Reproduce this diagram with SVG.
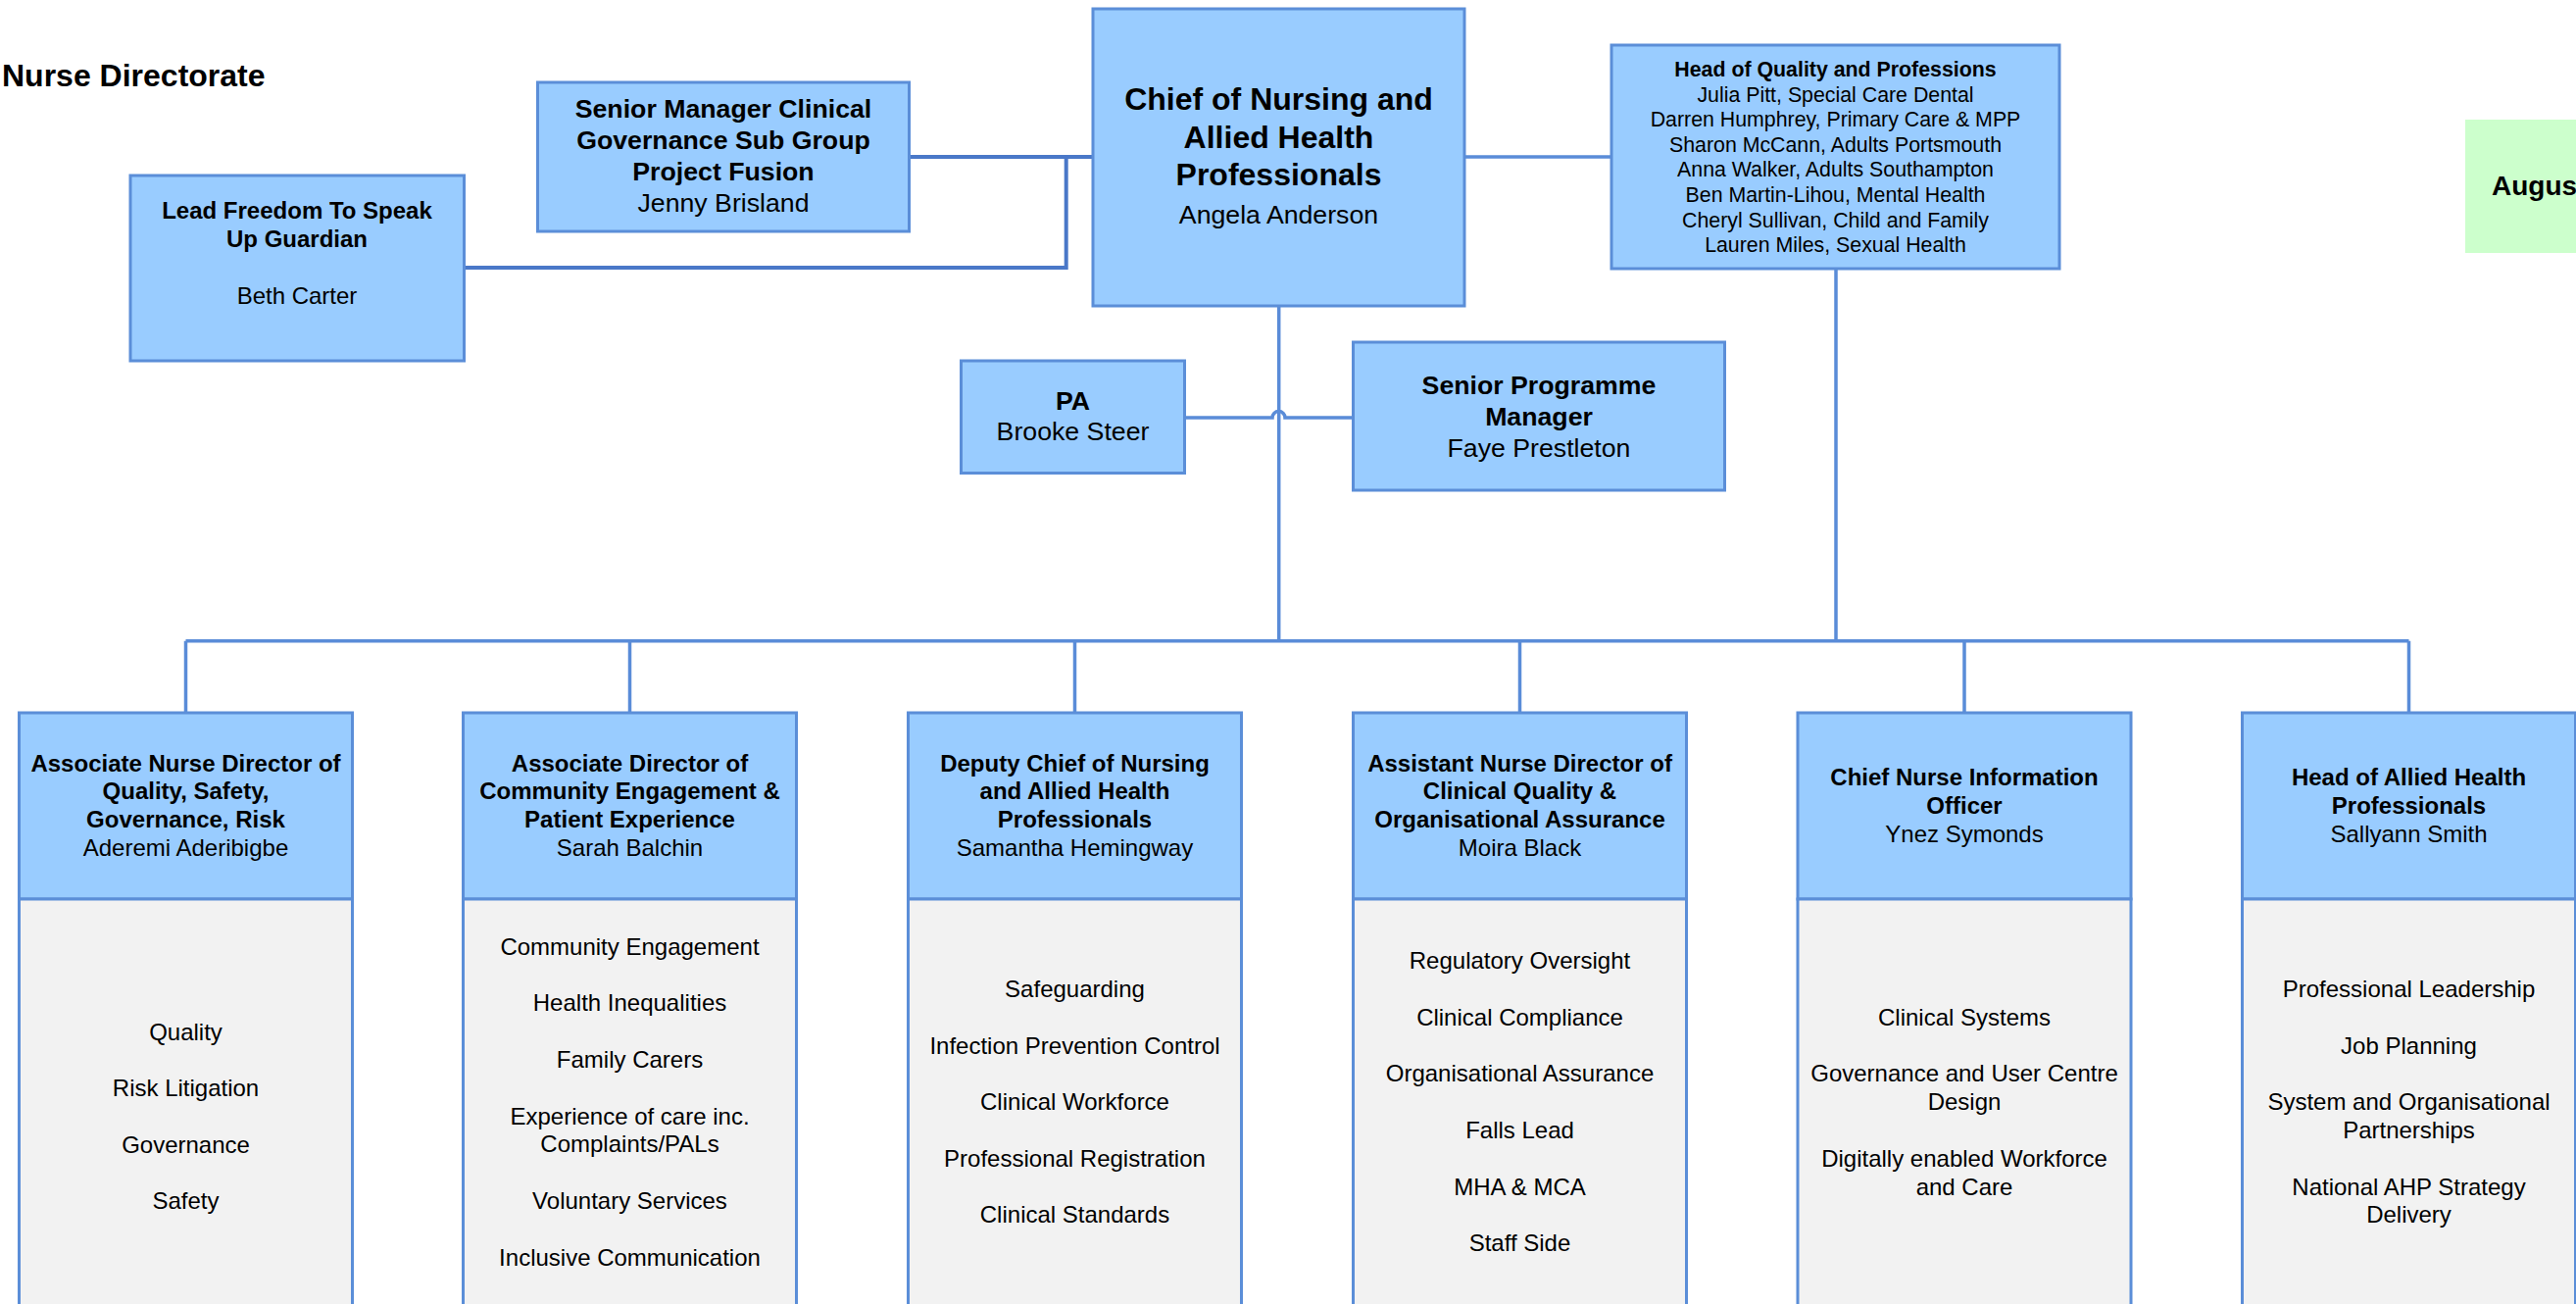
<svg xmlns="http://www.w3.org/2000/svg" width="2628" height="1330" viewBox="0 0 2628 1330">
<style>
text{font-family:"Liberation Sans",Arial,sans-serif;fill:#000;text-anchor:middle}
.b{font-weight:bold}
.box{fill:#99CCFF;stroke:#5B8ED8;stroke-width:3}
.body{fill:#F2F2F2;stroke:#5B8ED8;stroke-width:3}
.ln{fill:none;stroke:#5A8CD8;stroke-width:3.5}
.ln2{fill:none;stroke:#4A78C8;stroke-width:4}
.f32{font-size:32px}
.f27{font-size:26.7px}
.f24{font-size:24px}
.f21{font-size:21.33px}
</style>
<rect width="2628" height="1330" fill="#fff"/>
<text class="b f32" x="2" y="88" style="text-anchor:start">Nurse Directorate</text>

<g id="connectors">
<path class="ln2" d="M927.5,160 H1115 M1087.7,160 V273 H473.5"/>
<path class="ln" d="M1494,160 H1644"/>
<path class="ln" d="M1304.7,312 V653.7 M1873,274 V653.7"/>
<path class="ln" d="M189.5,653.7 H2457.5"/>
<path class="ln" d="M189.5,653.7 V727 M642.5,653.7 V727 M1096.5,653.7 V727 M1550.5,653.7 V727 M2004,653.7 V727 M2457.5,653.7 V727"/>
<path class="ln" d="M1208.5,426 H1298 a6.5,6.5 0 0 1 13,0 H1380.5"/>
</g>

<g id="chief">
<rect class="box" x="1115" y="9" width="379" height="303"/>
<text class="b f32" x="1304.5" y="112">Chief of Nursing and</text>
<text class="b f32" x="1304.5" y="150.5">Allied Health</text>
<text class="b f32" x="1304.5" y="189">Professionals</text>
<text class="f27" x="1304.5" y="228">Angela Anderson</text>
</g>

<g id="senior-manager">
<rect class="box" x="548.5" y="84" width="379" height="152"/>
<text class="b f27" x="738" y="120">Senior Manager Clinical</text>
<text class="b f27" x="738" y="152">Governance Sub Group</text>
<text class="b f27" x="738" y="184">Project Fusion</text>
<text class="f27" x="738" y="216">Jenny Brisland</text>
</g>

<g id="lead-freedom">
<rect class="box" x="133" y="179" width="340.5" height="189"/>
<text class="b f24" x="303" y="223">Lead Freedom To Speak</text>
<text class="b f24" x="303" y="251.8">Up Guardian</text>
<text class="f24" x="303" y="310">Beth Carter</text>
</g>

<g id="head-quality">
<rect class="box" x="1644" y="46" width="457" height="228"/>
<text class="b f21" x="1872.5" y="78">Head of Quality and Professions</text>
<text class="f21" x="1872.5" y="103.6">Julia Pitt, Special Care Dental</text>
<text class="f21" x="1872.5" y="129.2">Darren Humphrey, Primary Care &amp; MPP</text>
<text class="f21" x="1872.5" y="154.8">Sharon McCann, Adults Portsmouth</text>
<text class="f21" x="1872.5" y="180.4">Anna Walker, Adults Southampton</text>
<text class="f21" x="1872.5" y="206">Ben Martin-Lihou, Mental Health</text>
<text class="f21" x="1872.5" y="231.6">Cheryl Sullivan, Child and Family</text>
<text class="f21" x="1872.5" y="257.2">Lauren Miles, Sexual Health</text>
</g>

<g id="date">
<rect x="2515" y="122" width="120" height="136" fill="#CCFFCC"/>
<text class="b" x="2542" y="199" style="text-anchor:start;font-size:28px">Augus</text>
</g>

<g id="pa">
<rect class="box" x="980.5" y="368" width="228" height="114.5"/>
<text class="b f27" x="1094.5" y="418">PA</text>
<text class="f27" x="1094.5" y="449">Brooke Steer</text>
</g>

<g id="senior-programme">
<rect class="box" x="1380.5" y="349" width="379" height="151"/>
<text class="b f27" x="1570" y="402">Senior Programme</text>
<text class="b f27" x="1570" y="434">Manager</text>
<text class="f27" x="1570" y="466">Faye Prestleton</text>
</g>

<g id="assoc-nurse-director">
<rect class="box" x="19.5" y="727" width="340" height="190"/>
<rect class="body" x="19.5" y="917" width="340" height="430"/>
<text class="b f24" x="189.5" y="786.5">Associate Nurse Director of</text>
<text class="b f24" x="189.5" y="815.3">Quality, Safety,</text>
<text class="b f24" x="189.5" y="844.1">Governance, Risk</text>
<text class="f24" x="189.5" y="872.9">Aderemi Aderibigbe</text>
<text class="f24" x="189.5" y="1060.5">Quality</text>
<text class="f24" x="189.5" y="1118.1">Risk Litigation</text>
<text class="f24" x="189.5" y="1175.7">Governance</text>
<text class="f24" x="189.5" y="1233.3">Safety</text>
</g>

<g id="assoc-director-community">
<rect class="box" x="472.5" y="727" width="340" height="190"/>
<rect class="body" x="472.5" y="917" width="340" height="430"/>
<text class="b f24" x="642.5" y="786.5">Associate Director of</text>
<text class="b f24" x="642.5" y="815.3">Community Engagement &amp;</text>
<text class="b f24" x="642.5" y="844.1">Patient Experience</text>
<text class="f24" x="642.5" y="872.9">Sarah Balchin</text>
<text class="f24" x="642.5" y="973.7">Community Engagement</text>
<text class="f24" x="642.5" y="1031.3">Health Inequalities</text>
<text class="f24" x="642.5" y="1088.9">Family Carers</text>
<text class="f24" x="642.5" y="1146.5">Experience of care inc.</text>
<text class="f24" x="642.5" y="1175.3">Complaints/PALs</text>
<text class="f24" x="642.5" y="1232.9">Voluntary Services</text>
<text class="f24" x="642.5" y="1290.5">Inclusive Communication</text>
</g>

<g id="deputy-chief">
<rect class="box" x="926.5" y="727" width="340" height="190"/>
<rect class="body" x="926.5" y="917" width="340" height="430"/>
<text class="b f24" x="1096.5" y="786.5">Deputy Chief of Nursing</text>
<text class="b f24" x="1096.5" y="815.3">and Allied Health</text>
<text class="b f24" x="1096.5" y="844.1">Professionals</text>
<text class="f24" x="1096.5" y="872.9">Samantha Hemingway</text>
<text class="f24" x="1096.5" y="1017">Safeguarding</text>
<text class="f24" x="1096.5" y="1074.6">Infection Prevention Control</text>
<text class="f24" x="1096.5" y="1132.2">Clinical Workforce</text>
<text class="f24" x="1096.5" y="1189.8">Professional Registration</text>
<text class="f24" x="1096.5" y="1247.4">Clinical Standards</text>
</g>

<g id="assistant-nurse-director">
<rect class="box" x="1380.5" y="727" width="340" height="190"/>
<rect class="body" x="1380.5" y="917" width="340" height="430"/>
<text class="b f24" x="1550.5" y="786.5">Assistant Nurse Director of</text>
<text class="b f24" x="1550.5" y="815.3">Clinical Quality &amp;</text>
<text class="b f24" x="1550.5" y="844.1">Organisational Assurance</text>
<text class="f24" x="1550.5" y="872.9">Moira Black</text>
<text class="f24" x="1550.5" y="988.2">Regulatory Oversight</text>
<text class="f24" x="1550.5" y="1045.8">Clinical Compliance</text>
<text class="f24" x="1550.5" y="1103.4">Organisational Assurance</text>
<text class="f24" x="1550.5" y="1161">Falls Lead</text>
<text class="f24" x="1550.5" y="1218.6">MHA &amp; MCA</text>
<text class="f24" x="1550.5" y="1276.2">Staff Side</text>
</g>

<g id="cnio">
<rect class="box" x="1834" y="727" width="340" height="190"/>
<rect class="body" x="1834" y="917" width="340" height="430"/>
<text class="b f24" x="2004" y="800.9">Chief Nurse Information</text>
<text class="b f24" x="2004" y="829.7">Officer</text>
<text class="f24" x="2004" y="858.5">Ynez Symonds</text>
<text class="f24" x="2004" y="1045.8">Clinical Systems</text>
<text class="f24" x="2004" y="1103.4">Governance and User Centre</text>
<text class="f24" x="2004" y="1132.2">Design</text>
<text class="f24" x="2004" y="1189.8">Digitally enabled Workforce</text>
<text class="f24" x="2004" y="1218.6">and Care</text>
</g>

<g id="head-ahp">
<rect class="box" x="2287.5" y="727" width="340" height="190"/>
<rect class="body" x="2287.5" y="917" width="340" height="430"/>
<text class="b f24" x="2457.5" y="800.9">Head of Allied Health</text>
<text class="b f24" x="2457.5" y="829.7">Professionals</text>
<text class="f24" x="2457.5" y="858.5">Sallyann Smith</text>
<text class="f24" x="2457.5" y="1017">Professional Leadership</text>
<text class="f24" x="2457.5" y="1074.6">Job Planning</text>
<text class="f24" x="2457.5" y="1132.2">System and Organisational</text>
<text class="f24" x="2457.5" y="1161">Partnerships</text>
<text class="f24" x="2457.5" y="1218.6">National AHP Strategy</text>
<text class="f24" x="2457.5" y="1247.4">Delivery</text>
</g>
</svg>
